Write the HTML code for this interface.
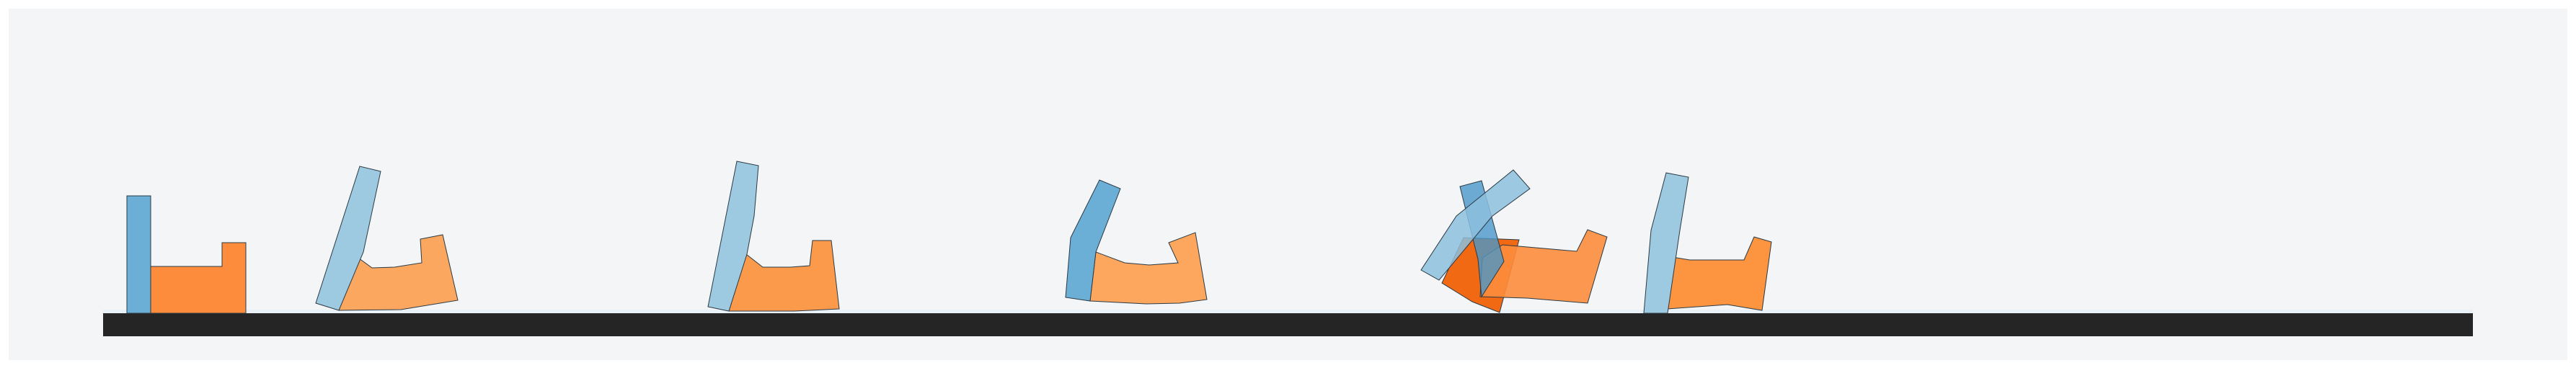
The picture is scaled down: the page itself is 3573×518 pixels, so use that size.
<!DOCTYPE html>
<html><head><meta charset="utf-8"><style>
html,body{margin:0;padding:0;background:#fff;}
svg{display:block;}
</style></head><body>
<svg id="chart" width="3573" height="518" viewBox="0 0 3573 518" xmlns="http://www.w3.org/2000/svg">
<rect x="12" y="12" width="3549" height="488" fill="#f3f5f7"/>
<rect x="143" y="430" width="3287" height="5" fill="#eaf1f6"/>
<rect x="143" y="435" width="3287" height="32" fill="#252525"/>
<g id="figs"></g>
</svg>
<script>
// polygon vertices (x,y pairs) per frame
const frame1Leg = [176,272, 209,272, 209,435, 176,435];
const frame1Body = [209,370, 308,370, 308,337, 341,337, 341,435, 209,435];
const frame2Leg = [499,231, 528,238, 504,350, 470,431, 438,421];
const frame2Body = [490,353, 516,372, 547,371, 585,365, 583,332, 614,326, 635,417, 556,430, 470,431];
const frame3Leg = [1022,224, 1052,230, 1046,300, 1036,353, 1011,432, 982,426];
const frame3Body = [1035,353, 1058,371, 1096,371, 1123,369, 1127,334, 1153,334, 1164,429, 1102,432, 1011,432];
const frame4Leg = [1525,250, 1554,262, 1520,350, 1512,418, 1478,413, 1485,330];
const frame4Body = [1520,350, 1560,365, 1594,368, 1634,365, 1621,337, 1658,323, 1674,416, 1636,421, 1590,422, 1512,418];
const frame5BodyA = [2030,330, 2107,333, 2080,434, 2042,419, 2000,393];
const frame5BodyB = [2084,340, 2164,347, 2187,349, 2202,319, 2229,329, 2202,421, 2118,414, 2053,412, 2056,358];
const frame5LegA = [2025,259, 2055,251, 2086,363, 2055,412, 2050,360];
const frame5LegB = [2099,236, 2122,262, 2070,300, 1996,389, 1971,375, 2020,300];
const frame6Leg = [2311,240, 2342,246, 2330,320, 2313,435, 2280,435, 2290,320];
const frame6Body = [2313,356, 2344,361, 2373,361, 2419,361, 2433,329, 2457,336, 2444,431, 2396,423, 2313,429];

const shapes = [
  ['frame1-body', frame1Body, '#fd8d3c', 1],
  ['frame1-leg', frame1Leg, '#6baed6', 1],
  ['frame2-body', frame2Body, '#fca760', 1],
  ['frame2-leg', frame2Leg, '#9ecae1', 1],
  ['frame3-body', frame3Body, '#fc9a4c', 1],
  ['frame3-leg', frame3Leg, '#9ecae1', 1],
  ['frame4-body', frame4Body, '#fca65e', 1],
  ['frame4-leg', frame4Leg, '#6baed6', 1],
  ['frame5-body-a', frame5BodyA, '#f16913', 1],
  ['frame5-body-b', frame5BodyB, '#fd8d3c', 0.9],
  ['frame5-leg-a', frame5LegA, '#4a97c9', 0.8],
  ['frame5-leg-b', frame5LegB, '#8cc0de', 0.85],
  ['frame6-body', frame6Body, '#fd943f', 1],
  ['frame6-leg', frame6Leg, '#9ecae1', 1]
];
const g = document.getElementById('figs');
for (const [name, pts, fill, op] of shapes) {
  const p = document.createElementNS('http://www.w3.org/2000/svg', 'polygon');
  const s = [];
  for (let i = 0; i < pts.length; i += 2) s.push(pts[i] + ',' + pts[i+1]);
  p.setAttribute('points', s.join(' '));
  p.setAttribute('fill', fill);
  p.setAttribute('fill-opacity', op);
  p.setAttribute('stroke', '#2b3a44');
  p.setAttribute('stroke-width', '1');
  
  
  g.appendChild(p);
}
</script>
</body></html>
